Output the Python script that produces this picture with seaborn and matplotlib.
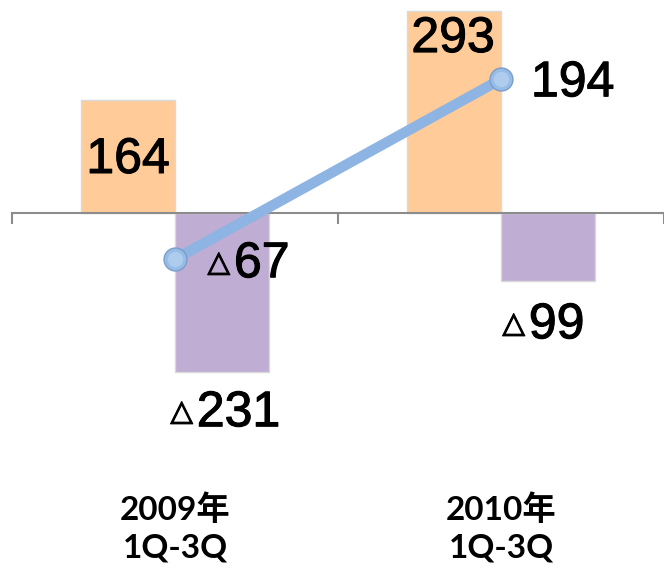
import pandas as pd
import matplotlib
matplotlib.use("Agg")
import matplotlib.pyplot as plt
import matplotlib.transforms as mtransforms
import matplotlib.patheffects as pe
import seaborn as sns

# dados
periodos = ["2009年\n1Q-3Q", "2010年\n1Q-3Q"]
serie_a = [164, 293]      # barras laranja
serie_b = [-231, -99]     # barras roxas
serie_linha = [-67, 194]  # linha azul

COR_A = "#FFCC99"
COR_B = "#BFADD3"
COR_LINHA = "#8DB4E2"

sns.set_theme(style="white")

df_barras = pd.DataFrame({
    "Periodo": periodos * 2,
    "Serie": ["A"] * 2 + ["B"] * 2,
    "Valor": serie_a + serie_b,
})
df_linha = pd.DataFrame({"Periodo": periodos, "Valor": serie_linha})

fig = plt.figure(figsize=(6.64, 5.68), dpi=100)
ax = fig.add_axes([0, 0, 1, 1])

sns.barplot(data=df_barras, x="Periodo", y="Valor", hue="Serie",
            order=periodos, hue_order=["A", "B"],
            palette=[COR_A, COR_B], saturation=1, width=0.575, gap=0,
            edgecolor="#D9D9D9", linewidth=1.0, legend=False, ax=ax)

sns.pointplot(data=df_linha, x="Periodo", y="Valor", order=periodos,
              color=COR_LINHA, markers="o", linestyles="-",
              linewidth=7.5, markersize=16.5, markerfacecolor="#97BCE6",
              markeredgecolor="#7A9DCB", markeredgewidth=1.0, ax=ax, zorder=5)
# brilho da esfera
sns.pointplot(data=df_linha, x="Periodo", y="Valor", order=periodos,
              color="#B3D0F0", markers="o", linestyles="none",
              markersize=11, markeredgewidth=0, alpha=0.85, ax=ax, zorder=6)

ax.set_xlim(-0.5366, 1.4878)
ax.set_ylim(-515, 309)
for s in ["top", "left", "right"]:
    ax.spines[s].set_visible(False)
ax.spines["bottom"].set_position(("data", 0))
ax.spines["bottom"].set_bounds(-0.5, 1.6)
ax.spines["bottom"].set_color("#8C8C8C")
ax.spines["bottom"].set_linewidth(1.5)
ax.set_xticks([-0.5, 0.5, 1.5])
ax.set_xticklabels([])
ax.tick_params(axis="x", direction="out", length=8, width=1.5, color="#8C8C8C", bottom=True)
ax.set_yticks([])
ax.set_xlabel("")
ax.set_ylabel("")

fonte_num = "Liberation Sans"
tam_num = 36
tam_tri = 21
contorno = [pe.withStroke(linewidth=0.8, foreground="black")]

def rotulo(x, y, dx, dy, valor, neg, ha="center"):
    # triangulo a esquerda dos numeros negativos
    texto = str(abs(valor))
    ax.annotate(texto, (x, y), xytext=(dx, dy), textcoords="offset pixels",
                ha="left" if neg else ha, va="center",
                fontsize=tam_num, family=fonte_num, color="black", zorder=7,
                path_effects=contorno)
    if neg:
        ax.annotate("△", (x, y), xytext=(dx - 4, dy + 1), textcoords="offset pixels",
                    ha="right", va="center", fontsize=tam_tri, fontweight="bold",
                    family="DejaVu Sans", color="black", zorder=7,
                    path_effects=contorno)

off_bar = 0.575 / 4
# barras laranja (rotulo dentro, no topo)
rotulo(0 - off_bar, serie_a[0], 0, -60, serie_a[0], False)
rotulo(1 - off_bar, serie_a[1], -1, -28, serie_a[1], False)
# barras roxas (rotulo abaixo)
rotulo(0 + off_bar, serie_b[0], -25, -41, serie_b[0], True)
rotulo(1 + off_bar, serie_b[1], -19, -44, serie_b[1], True)
# linha
rotulo(0, serie_linha[0], 59, -5, serie_linha[0], True)
rotulo(1, serie_linha[1], 30, -4, serie_linha[1], False, ha="left")

trans = mtransforms.blended_transform_factory(ax.transData, ax.transAxes)
for i, p in enumerate(periodos):
    ax.text(i, 1 - 528 / 568, p, transform=trans, ha="center", va="center",
            fontsize=24, fontweight="bold", linespacing=1.35,
            family=["Lato", "Noto Sans CJK SC"], color="black")

fig.savefig("out.png", dpi=100)
plt.close(fig)
